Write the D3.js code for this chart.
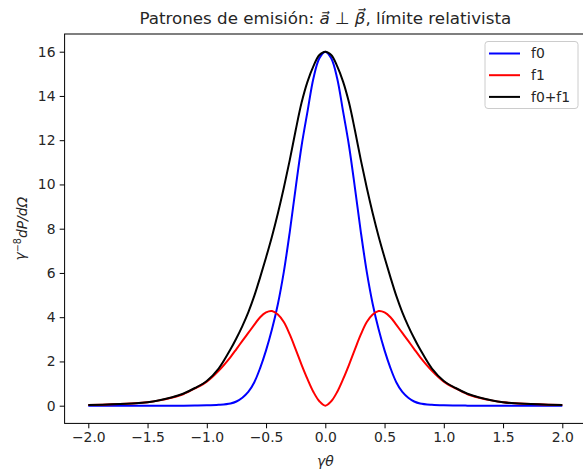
<!DOCTYPE html>
<html>
<head>
<meta charset="utf-8">
<script src="https://cdn.jsdelivr.net/npm/d3@7"></script>
<style>
body { margin: 0; background: #fff; }
svg text { font-family: "DejaVu Sans", sans-serif; fill: #262626; }
</style>
</head>
<body>
<svg id="chart"></svg>
<script>
// values
const gammaTheta = [-2.0, -1.8, -1.6, -1.5, -1.4, -1.3, -1.2, -1.1, -1.0, -0.9, -0.8, -0.75, -0.7, -0.65, -0.6, -0.55, -0.5, -0.45, -0.4, -0.35, -0.3, -0.25, -0.2, -0.15, -0.1, -0.05,
    0,
    0.05, 0.1, 0.15, 0.2, 0.25, 0.3, 0.35, 0.4, 0.45, 0.5, 0.55, 0.6, 0.65, 0.7, 0.75, 0.8, 0.9, 1.0, 1.1, 1.2, 1.3, 1.4, 1.5, 1.6, 1.8, 2.0];

const f0Values = [0, 0, 0, 0, 0, 0.001, 0.003, 0.007, 0.015, 0.04, 0.1, 0.19, 0.36, 0.62, 1.05, 1.7, 2.5, 3.45, 4.6, 6.05, 7.85, 9.85, 11.75, 13.3, 14.8, 15.7,
    16.0,
    15.7, 14.8, 13.3, 11.75, 9.85, 7.85, 6.05, 4.6, 3.45, 2.5, 1.7, 1.05, 0.62, 0.36, 0.19, 0.1, 0.04, 0.015, 0.007, 0.003, 0.001, 0, 0, 0, 0, 0];

const f1Values = [0.03, 0.06, 0.11, 0.16, 0.24, 0.36, 0.52, 0.78, 1.09, 1.58, 2.2, 2.56, 2.93, 3.29, 3.65, 4.0, 4.22, 4.28, 4.12, 3.78, 3.22, 2.55, 1.85, 1.2, 0.62, 0.2,
    0,
    0.2, 0.62, 1.2, 1.85, 2.55, 3.22, 3.78, 4.12, 4.28, 4.22, 4.0, 3.65, 3.29, 2.93, 2.56, 2.2, 1.58, 1.09, 0.78, 0.52, 0.36, 0.24, 0.16, 0.11, 0.06, 0.03];

const sumValues = [0.03, 0.06, 0.11, 0.16, 0.25, 0.37, 0.54, 0.8, 1.12, 1.68, 2.55, 3.05, 3.6, 4.22, 4.95, 5.8, 6.7, 7.65, 8.7, 9.85, 11.1, 12.45, 13.7, 14.65, 15.35, 15.85,
    16.0,
    15.85, 15.35, 14.65, 13.7, 12.45, 11.1, 9.85, 8.7, 7.65, 6.7, 5.8, 4.95, 4.22, 3.6, 3.05, 2.55, 1.68, 1.12, 0.8, 0.54, 0.37, 0.25, 0.16, 0.11, 0.06, 0.03];

const seriesNames = ["f0", "f1", "f0+f1"];
const seriesColors = ["#0000ff", "#ff0000", "#000000"];
const xTicks = [-2.0, -1.5, -1.0, -0.5, 0.0, 0.5, 1.0, 1.5, 2.0];
const yTicks = [0, 2, 4, 6, 8, 10, 12, 14, 16];

const width = 583;
const height = 471;
const plot = { left: 64.6, right: 586, top: 34, bottom: 423.4 };

const svg = d3.select("#chart")
    .attr("width", width)
    .attr("height", height);

svg.append("rect")
    .attr("width", width)
    .attr("height", height)
    .attr("fill", "#fff");

const xScale = d3.scaleLinear()
    .domain([-2.2, 2.2])
    .range([plot.left, plot.right]);

const yScale = d3.scaleLinear()
    .domain([-0.8, 16.8])
    .range([plot.bottom, plot.top]);

svg.append("clipPath")
    .attr("id", "plot-clip")
    .append("rect")
    .attr("x", plot.left)
    .attr("y", plot.top)
    .attr("width", plot.right - plot.left)
    .attr("height", plot.bottom - plot.top);

// axes
const xAxis = svg.append("g")
    .attr("transform", `translate(0,${plot.bottom})`)
    .call(d3.axisBottom(xScale)
        .tickValues(xTicks)
        .tickFormat(d => d < 0 ? "\u2212" + Math.abs(d).toFixed(1) : d.toFixed(1))
        .tickSizeInner(4.9)
        .tickSizeOuter(0)
        .tickPadding(4.2));

const yAxis = svg.append("g")
    .attr("transform", `translate(${plot.left},0)`)
    .call(d3.axisLeft(yScale)
        .tickValues(yTicks)
        .tickFormat(d3.format("d"))
        .tickSizeInner(4.9)
        .tickSizeOuter(0)
        .tickPadding(4.2));

[xAxis, yAxis].forEach(g => {
    g.select(".domain").remove();
    g.selectAll(".tick line").attr("stroke", "#000").attr("stroke-width", 1);
    g.selectAll(".tick text")
        .style("font-family", "DejaVu Sans")
        .style("font-size", "13.9px")
        .attr("fill", "#262626");
});

// lines
const lineGen = d3.line()
    .x(d => xScale(d[0]))
    .y(d => yScale(d[1]))
    .curve(d3.curveCatmullRom.alpha(0.5));

const allSeries = [f0Values, f1Values, sumValues];

svg.append("g")
    .attr("clip-path", "url(#plot-clip)")
    .selectAll("path")
    .data(allSeries)
    .enter().append("path")
    .attr("d", vals => lineGen(gammaTheta.map((x, i) => [x, vals[i]])))
    .attr("fill", "none")
    .attr("stroke", (d, i) => seriesColors[i])
    .attr("stroke-width", 2)
    .attr("stroke-linejoin", "round");

// frame
svg.append("rect")
    .attr("x", plot.left)
    .attr("y", plot.top)
    .attr("width", plot.right - plot.left)
    .attr("height", plot.bottom - plot.top)
    .attr("fill", "none")
    .attr("stroke", "#000")
    .attr("stroke-width", 1);

// title
const title = svg.append("text")
    .attr("x", (plot.left + plot.right) / 2)
    .attr("y", 24)
    .attr("text-anchor", "middle")
    .style("font-size", "16.7px");
title.append("tspan").text("Patrones de emisión: ");
title.append("tspan").style("font-style", "italic").text("a\u20D7");
title.append("tspan").text(" \u22A5 ");
title.append("tspan").style("font-style", "italic").text("\u03B2\u20D7");
title.append("tspan").text(", límite relativista");

// x label
svg.append("text")
    .attr("x", (plot.left + plot.right) / 2)
    .attr("y", 466)
    .attr("text-anchor", "middle")
    .style("font-size", "13.9px")
    .style("font-style", "italic")
    .text("γθ");

// y label
const yLabel = svg.append("text")
    .attr("transform", `translate(25,${(plot.top + plot.bottom) / 2}) rotate(-90)`)
    .attr("text-anchor", "middle")
    .style("font-size", "13.9px");
yLabel.append("tspan").style("font-style", "italic").text("γ");
yLabel.append("tspan").attr("dy", "-0.45em").style("font-size", "9.7px").text("\u22128");
yLabel.append("tspan").attr("dy", "0.45em").style("font-style", "italic").text("dP/dΩ");

// legend
const legend = svg.append("g");
legend.append("rect")
    .attr("x", 485)
    .attr("y", 41.5)
    .attr("width", 93)
    .attr("height", 67)
    .attr("rx", 3)
    .attr("fill", "#fff")
    .attr("fill-opacity", 0.8)
    .attr("stroke", "#cccccc")
    .attr("stroke-width", 1);

const rows = legend.selectAll(".row")
    .data(seriesNames)
    .enter().append("g")
    .attr("class", "row")
    .attr("transform", (d, i) => `translate(0,${53.5 + i * 21.7})`);

rows.append("line")
    .attr("x1", 489)
    .attr("x2", 520)
    .attr("stroke", (d, i) => seriesColors[i])
    .attr("stroke-width", 2);

rows.append("text")
    .attr("x", 531)
    .attr("y", 0)
    .attr("dy", "0.35em")
    .style("font-size", "13.9px")
    .text(d => d);
</script>
</body>
</html>
